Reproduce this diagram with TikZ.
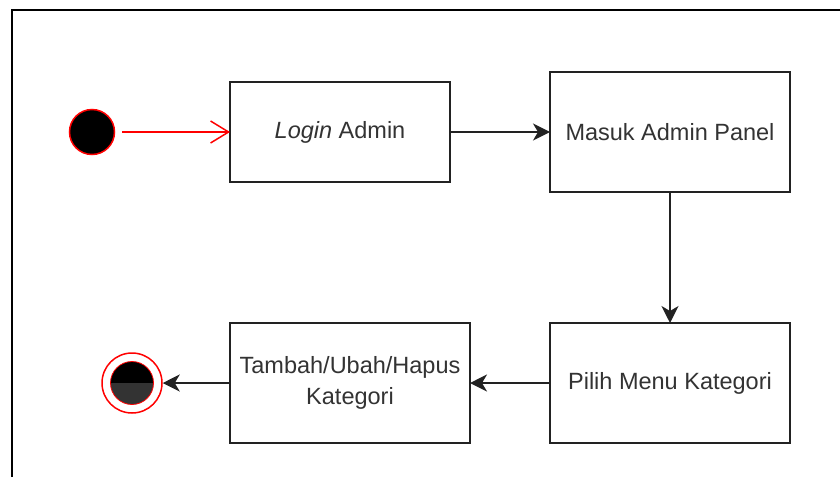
\documentclass[tikz,border=0pt]{standalone}
\usepackage{fontspec}
\setmainfont{Liberation Sans}
\usetikzlibrary{arrows.meta}
\definecolor{txtgray}{HTML}{333333}
\definecolor{linegray}{HTML}{222222}

\tikzset{
  actbox/.style={draw=linegray, line width=1.6pt, fill=white, inner sep=0pt, outer sep=0pt,
    align=center, text=txtgray, font=\fontsize{23.5}{31}\selectfont},
  flow/.style={draw=linegray, line width=1.5pt, -{Stealth[length=17pt,width=17pt,inset=5pt]}},
  startflow/.style={draw=red, line width=1.5pt, -{Straight Barb[length=18pt,width=22pt]}}
}

\begin{document}
\begin{tikzpicture}[x=1pt,y=-1pt]
    \useasboundingbox (0,0) rectangle (840,477);
    % frame
    \draw[line width=2pt] (12,477) -- (12,10) -- (840,10);

    % start
    \node[circle, draw=red, line width=1.5pt, fill=black, minimum size=45pt, inner sep=0pt] (start) at (92,132) {};

    % activities
    \node[actbox, minimum width=220pt, minimum height=100pt] (login) at (340,132) {\textit{Login} Admin};
    \node[actbox, minimum width=240pt, minimum height=120pt] (panel) at (670,132) {Masuk Admin Panel};
    \node[actbox, minimum width=240pt, minimum height=120pt] (menu) at (670,383) {Pilih Menu Kategori};
    \node[actbox, minimum width=240pt, minimum height=120pt] (edit) at (350,383) {Tambah/Ubah/Hapus\\Kategori};

    % end
    \node[circle, draw=red, line width=1.5pt, fill=white, minimum size=60pt, inner sep=0pt] (end) at (132,383) {};
    \fill[black] ([xshift=-21.5pt]end.center) arc[start angle=180, end angle=0, radius=21.5pt] -- cycle;
    \fill[txtgray] ([xshift=-21.5pt]end.center) arc[start angle=180, end angle=360, radius=21.5pt] -- cycle;
    \draw[red, line width=0.8pt] (end.center) circle (21.5pt);

    % flows
    \draw[startflow] ([xshift=7pt]start.east) -- (login.west);
    \draw[flow] (login) -- (panel);
    \draw[flow] (panel) -- (menu);
    \draw[flow] (menu) -- (edit);
    \draw[flow] (edit) -- (end);
\end{tikzpicture}
\end{document}
